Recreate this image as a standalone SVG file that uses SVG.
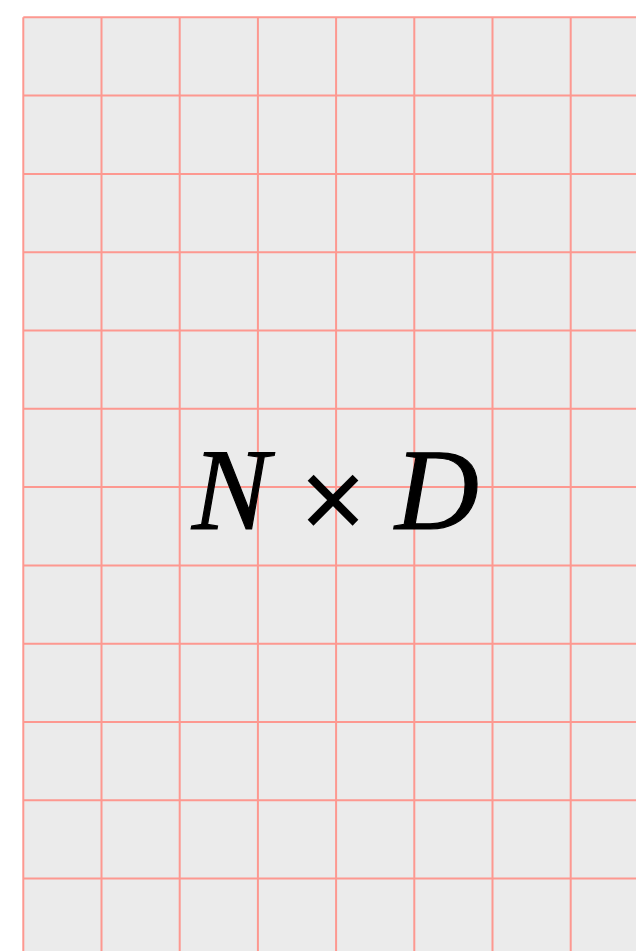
<svg xmlns="http://www.w3.org/2000/svg" width="636" height="951" viewBox="0 0 636 951">
<style>
.g{stroke:#fd9890;stroke-width:2;fill:none}
.t{font-family:"Liberation Serif","Times New Roman",serif;font-size:116px;fill:#000}
.i{font-style:italic;stroke:#000;stroke-width:1.2}
</style>
<rect x="0" y="0" width="636" height="951" fill="#ffffff"/>
<rect x="23.3" y="17.3" width="620" height="940" fill="#ebebeb"/>
<g id="grid" class="g">
<path d="M23.3 17.3V951M101.5 17.3V951M179.7 17.3V951M257.9 17.3V951M336.1 17.3V951M414.3 17.3V951M492.5 17.3V951M570.7 17.3V951"/>
<path d="M23.3 17.3H636M23.3 95.6H636M23.3 173.9H636M23.3 252.2H636M23.3 330.5H636M23.3 408.8H636M23.3 487.1H636M23.3 565.4H636M23.3 643.7H636M23.3 722H636M23.3 800.3H636M23.3 878.6H636"/>
</g>
<g id="label">
<text class="t i" x="192" y="529">N</text>
<text class="t" x="333" y="539" font-size="280" text-anchor="middle" stroke="#000" stroke-width="2.5">×</text>
<text class="t i" x="395" y="529">D</text>
</g>
</svg>
